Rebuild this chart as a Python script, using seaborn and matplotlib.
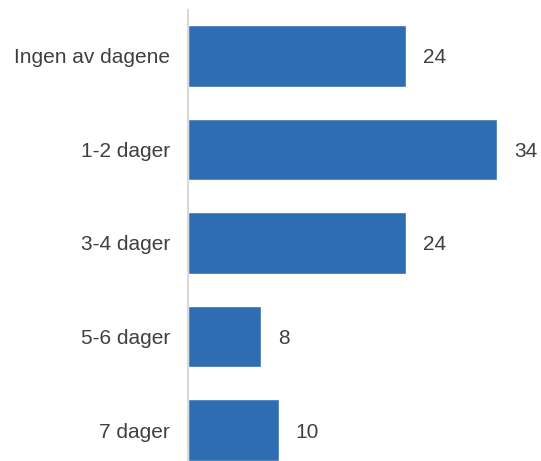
import pandas as pd
import matplotlib
matplotlib.use('Agg')
import matplotlib.pyplot as plt
import seaborn as sns

# data
categories = ['Ingen av dagene', '1-2 dager', '3-4 dager', '5-6 dager', '7 dager']
values = [24, 34, 24, 8, 10]

df = pd.DataFrame({'kategori': categories, 'andel': values})

sns.set_style('white')
plt.rcParams['font.family'] = ['Liberation Sans', 'DejaVu Sans']

fig = plt.figure(figsize=(5.41, 4.61), dpi=100)
ax = fig.add_axes([188 / 541, 0.0, 38 * 9.1 / 541, 1 - 10 / 461])

sns.barplot(data=df, x='andel', y='kategori', color='#2E6DB2', saturation=1,
            width=0.66, orient='h', ax=ax)

# value labels next to bars
for i, v in enumerate(values):
    ax.text(v + 1.85, i, str(v), va='center_baseline', ha='left',
            fontsize=15, color='#404040')

ax.set_xlim(0, 38)
ax.set_ylim(4.33, -0.49)
ax.set_xlabel('')
ax.set_ylabel('')
ax.set_xticks([])
ax.tick_params(axis='y', length=0, pad=13, labelsize=15, labelcolor='#404040')
for lbl in ax.get_yticklabels():
    lbl.set_verticalalignment('center_baseline')

for s in ['top', 'right', 'bottom']:
    ax.spines[s].set_visible(False)
ax.spines['left'].set_color('#D9D9D9')
ax.spines['left'].set_linewidth(1.5)

plt.savefig('out.png', dpi=100)
